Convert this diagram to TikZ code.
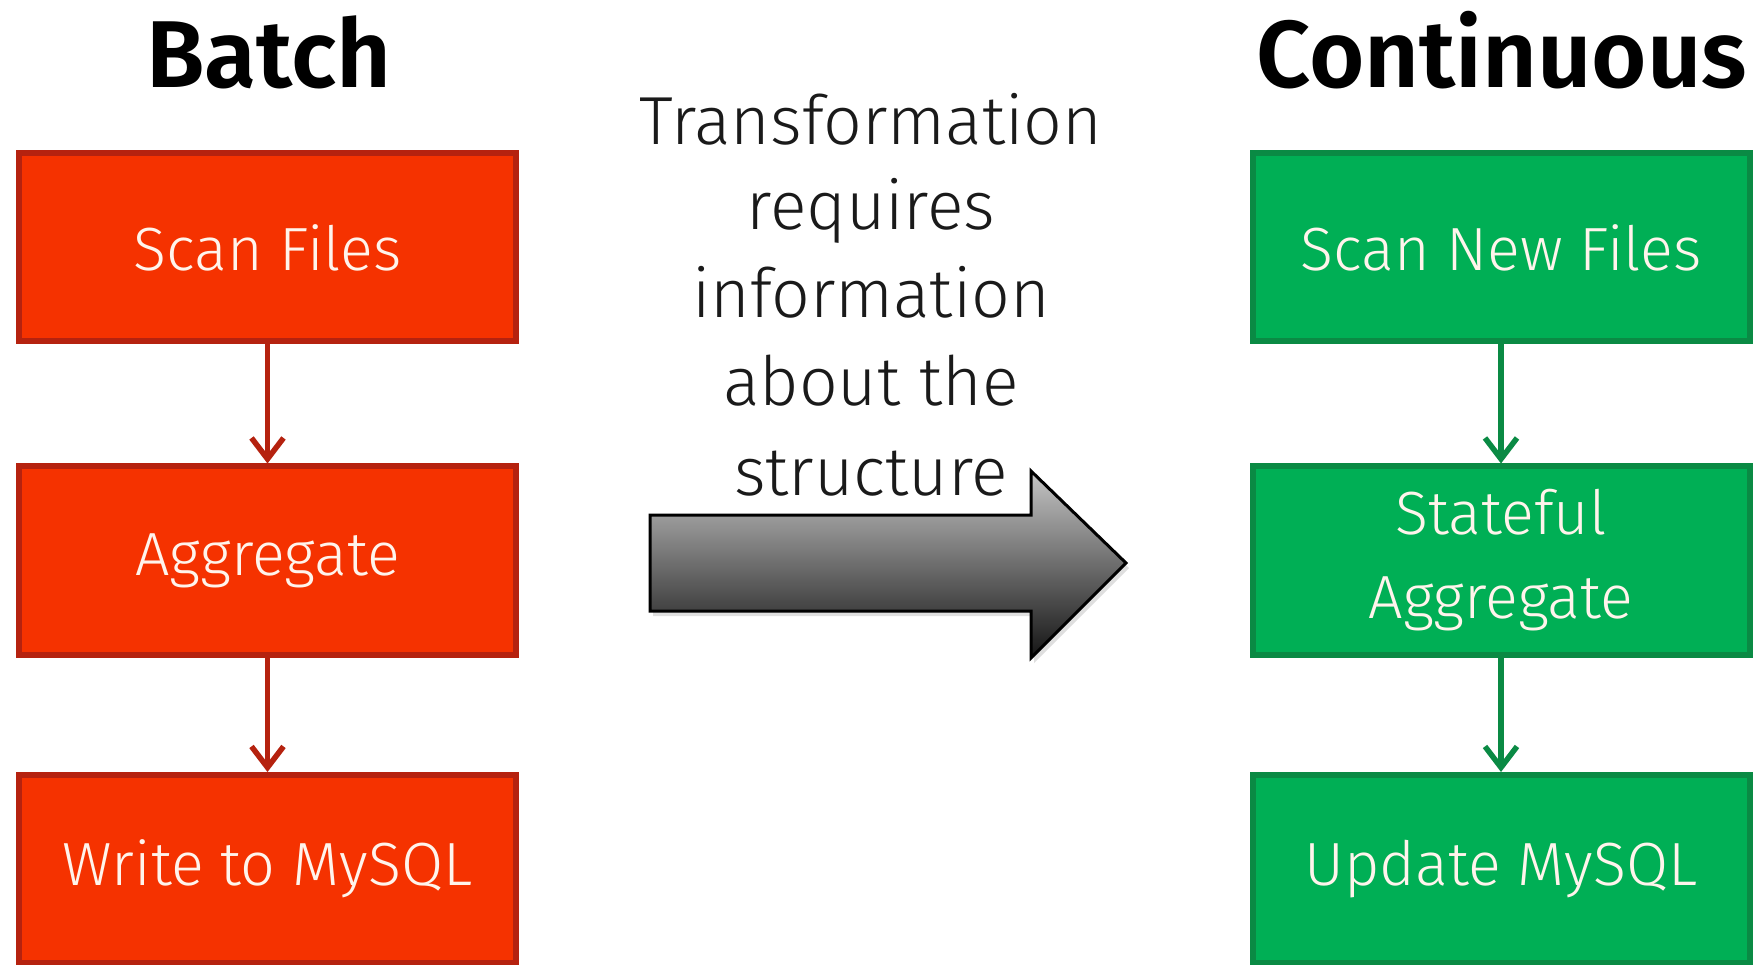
\documentclass[tikz,border=0pt]{standalone}
\usepackage{fontspec}
\setmainfont{Fira Sans}[UprightFont={* Light}, BoldFont={* SemiBold}]
\usetikzlibrary{arrows.meta,shadows}
\definecolor{redfill}{HTML}{F53200}
\definecolor{redline}{HTML}{B5220F}
\definecolor{greenfill}{HTML}{00AF55}
\definecolor{greenline}{HTML}{0A8A44}
\definecolor{boxtext}{HTML}{FFF4EC}
\definecolor{midtext}{HTML}{1A1A1A}
\tikzset{
  stepbase/.style={rectangle, line width=6pt, minimum width=497pt, minimum height=188pt,
    inner sep=0pt, text=boxtext, align=center, font=\fontsize{61}{84}\selectfont},
  redbox/.style={stepbase, draw=redline, fill=redfill},
  greenbox/.style={stepbase, draw=greenline, fill=greenfill},
  redarrow/.style={draw=redline, line width=5.5pt, -{Straight Barb[length=21pt,width=32pt,line width=5.5pt]}},
  greenarrow/.style={draw=greenline, line width=5.5pt, -{Straight Barb[length=21pt,width=32pt,line width=5.5pt]}},
  title/.style={anchor=base, font=\fontsize{95}{100}\selectfont\bfseries, text=black, inner sep=0pt},
  midline/.style={anchor=base, font=\fontsize{68}{80}\selectfont, text=midtext, inner sep=0pt},
}
\begin{document}
\begin{tikzpicture}[x=1pt,y=-1pt]
\useasboundingbox (0,0) rectangle (1757,965);
\fill[white] (0,0) rectangle (1757,965);

\node[title] (tb) at (269,88) {Batch};
\node[title] (tc) at (1502,88) {Continuous};

\node[redbox] (b1) at (267.5,247.5) {Scan Files};
\node[redbox] (b2) at (267.5,560.5) {Aggregate};
\node[redbox] (b3) at (267.5,869) {Write to MySQL};
\draw[redarrow] (b1.south) -- (b2.north);
\draw[redarrow] (b2.south) -- (b3.north);

\node[greenbox] (c1) at (1501,247.5) {Scan New Files};
\node[greenbox] (c2) at (1501,560.5) {Stateful\\Aggregate};
\node[greenbox] (c3) at (1501,869) {Update MySQL};
\draw[greenarrow] (c1.south) -- (c2.north);
\draw[greenarrow] (c2.south) -- (c3.north);

\node[midline] (m1) at (871,145) {Transformation};
\node[midline] (m2) at (871,230) {requires};
\node[midline] (m3) at (871,318) {information};
\node[midline] (m4) at (871,406) {about the};
\node[midline] (m5) at (871,496) {structure};

\shade[top color=gray!45, bottom color=black!92, draw=black, line width=3pt, line join=miter,
  drop shadow={opacity=0.25, shadow xshift=3pt, shadow yshift=-5pt}]
  (650,515) -- (1031,515) -- (1031,471) -- (1126,563) -- (1031,658) -- (1031,611) -- (650,611) -- cycle;
\end{tikzpicture}
\end{document}
